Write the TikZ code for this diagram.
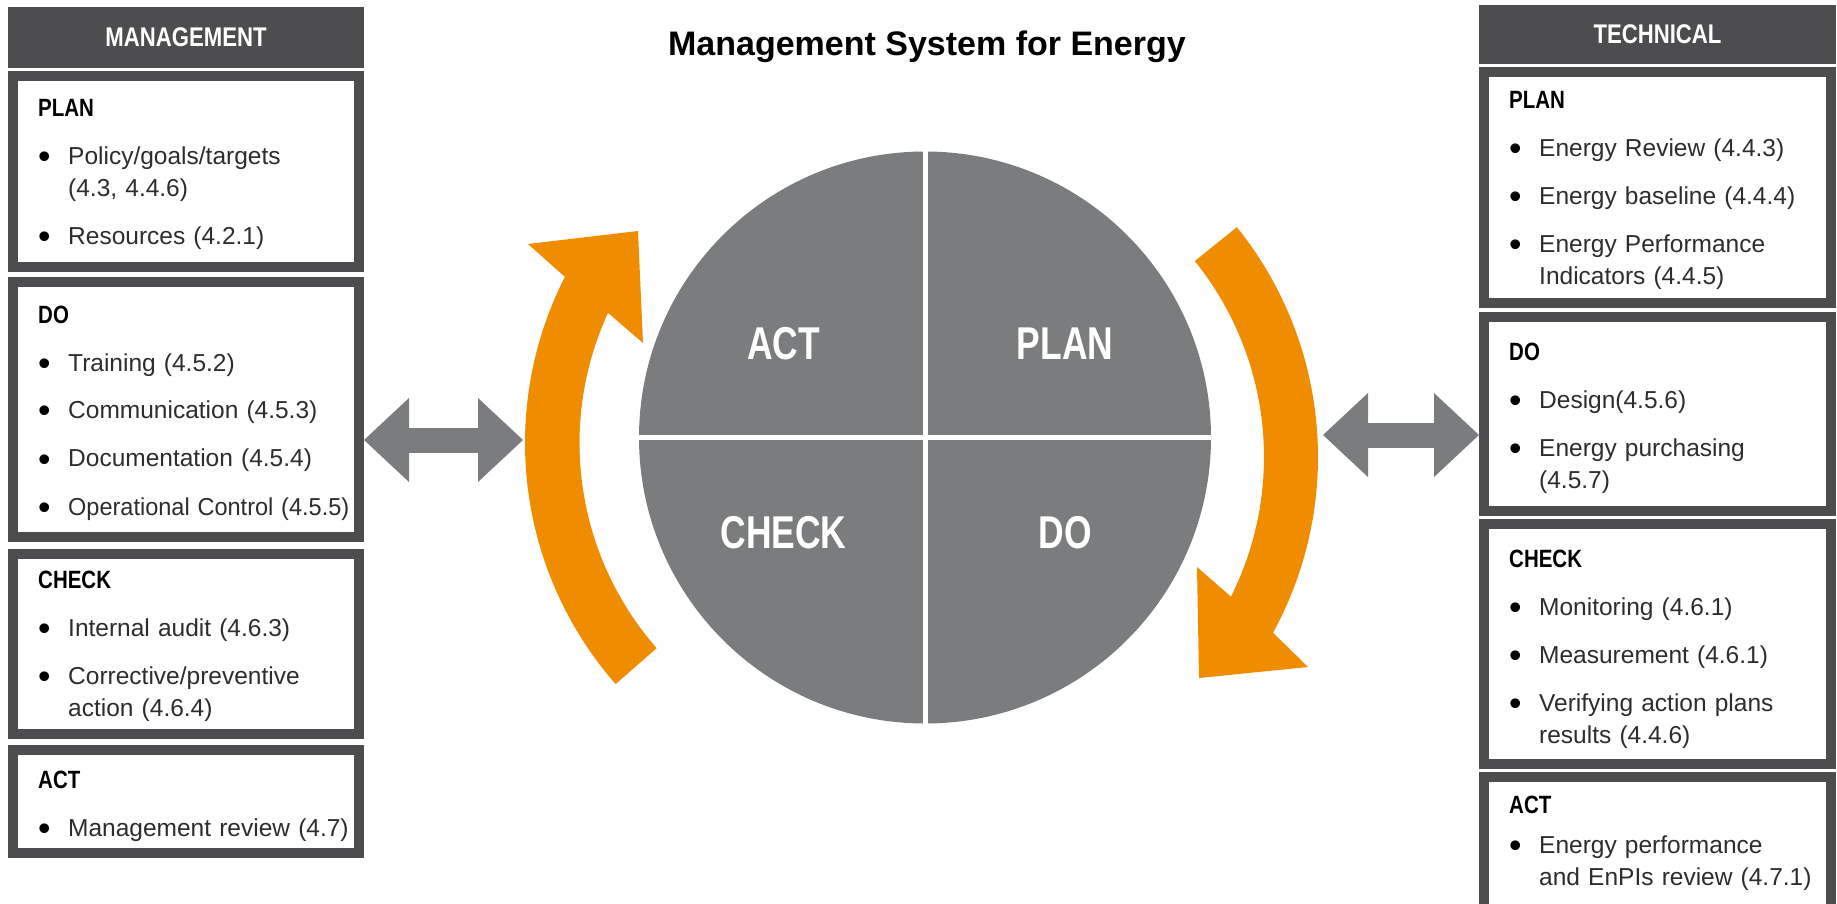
\documentclass[tikz,border=0pt]{standalone}
\usepackage{fontspec}
\setmainfont{Liberation Sans}
\newfontfamily\headfont[FakeStretch=0.82]{Liberation Sans}
\newfontfamily\cyclefont[FakeStretch=0.77]{Liberation Sans}
\usetikzlibrary{arrows.meta}

\definecolor{boxgray}{RGB}{77,77,79}
\definecolor{cyclegray}{RGB}{123,124,126}
\definecolor{loopcolor}{RGB}{240,140,0}
\definecolor{bodytext}{RGB}{45,45,45}

\newcommand\stagehead[1]{{\headfont\bfseries\fontsize{25}{32}\selectfont\color{black}#1}\par}
\newcommand\stageitem[2][16pt]{\par\vspace{#1}\noindent\makebox[30pt][l]{\color{black}\raisebox{-4pt}{\scalebox{1.45}{\textbullet}}}#2}
\newcommand\nextline{\newline\hspace*{30pt}}

\tikzset{
  stage/.style={draw=boxgray, line width=10pt, fill=white, inner sep=0pt},
  colhead/.style={fill=boxgray, text=white, inner sep=0pt, font=\headfont\bfseries\fontsize{27}{30}\selectfont},
  stagetext/.style={anchor=base west, inner sep=0pt, text width=330pt, text=bodytext, font=\fontsize{24.5}{32}\selectfont},
  quarter/.style={text=white, font=\cyclefont\bfseries\fontsize{46}{50}\selectfont},
  link/.style={draw=cyclegray, line width=25pt,
    {Triangle[length=45pt,width=84pt,line width=0pt]}-{Triangle[length=45pt,width=84pt,line width=0pt]}},
}

\begin{document}
\begin{tikzpicture}[x=1pt,y=1pt]
    \useasboundingbox (0,0) rectangle (1837,-904);

    % title
    \node[anchor=base, font=\bfseries\fontsize{34}{40}\selectfont] (title) at (927,-56) {Management System for Energy};

    % management column
    \node[colhead, minimum width=356, minimum height=61] (mhead) at (186,-37.5) {MANAGEMENT};
    \node[stage, minimum width=346, minimum height=191] (mplan) at (186,-171.5) {};
    \node[stage, minimum width=346, minimum height=255] (mdo) at (186,-409.5) {};
    \node[stage, minimum width=346, minimum height=180] (mcheck) at (186,-644) {};
    \node[stage, minimum width=346, minimum height=103] (mact) at (186,-801.5) {};
    \node[stagetext] (mplantxt) at (38,-117) {\stagehead{PLAN}%
        \stageitem{Policy/goals/targets\nextline(4.3, 4.4.6)}%
        \stageitem{Resources (4.2.1)}};
    \node[stagetext] (mdotxt) at (38,-323) {\stagehead{DO}%
        \stageitem{Training (4.5.2)}%
        \stageitem{Communication (4.5.3)}%
        \stageitem{Documentation (4.5.4)}%
        \stageitem{\scalebox{0.96}[1]{Operational Control (4.5.5)}}};
    \node[stagetext] (mchecktxt) at (38,-588) {\stagehead{CHECK}%
        \stageitem{Internal audit (4.6.3)}%
        \stageitem{Corrective/preventive\nextline action (4.6.4)}};
    \node[stagetext] (macttxt) at (38,-788) {\stagehead{ACT}%
        \stageitem{Management review (4.7)}};

    % technical column
    \node[colhead, minimum width=357, minimum height=59] (thead) at (1657.5,-34.5) {TECHNICAL};
    \node[stage, minimum width=347, minimum height=231] (tplan) at (1657.5,-187.5) {};
    \node[stage, minimum width=347, minimum height=194] (tdo) at (1657.5,-414) {};
    \node[stage, minimum width=347, minimum height=240] (tcheck) at (1657.5,-644) {};
    \node[stage, minimum width=347, minimum height=138] (tact) at (1657.5,-846) {};
    \node[stagetext] (tplantxt) at (1509,-109) {\stagehead{PLAN}%
        \stageitem{Energy Review (4.4.3)}%
        \stageitem{Energy baseline (4.4.4)}%
        \stageitem{Energy Performance\nextline Indicators (4.4.5)}};
    \node[stagetext] (tdotxt) at (1509,-360) {\stagehead{DO}%
        \stageitem{Design(4.5.6)}%
        \stageitem{Energy purchasing\nextline(4.5.7)}};
    \node[stagetext] (tchecktxt) at (1509,-567) {\stagehead{CHECK}%
        \stageitem{Monitoring (4.6.1)}%
        \stageitem{Measurement (4.6.1)}%
        \stageitem{Verifying action plans\nextline results (4.4.6)}};
    \node[stagetext] (tacttxt) at (1509,-813) {\stagehead{ACT}%
        \stageitem[8pt]{Energy performance\nextline and EnPIs review (4.7.1)}};

    % PDCA circle
    \node[circle, fill=cyclegray, minimum size=572, inner sep=0pt] (cycle) at (925,-437.5) {};
    \draw[white, line width=5pt] (cycle.north) -- (cycle.south);
    \draw[white, line width=5pt] (cycle.west) -- (cycle.east);
    \node[quarter] (actq) at (783.5,-343.5) {ACT};
    \node[quarter] (planq) at (1065,-343.5) {PLAN};
    \node[quarter] (checkq) at (783.5,-532.5) {CHECK};
    \node[quarter] (doq) at (1065,-532.5) {DO};

    % orange loop arrows
    \fill[loopcolor] ([shift={(221.2:366)}]891,-443) arc[start angle=221.2, end angle=153, radius=366]
        -- (528,-244) -- (638,-231) -- (643,-343)
        -- ([shift={(155.3:311.5)}]891,-443) arc[start angle=155.3, end angle=221.2, radius=311.5] -- cycle;
    \fill[loopcolor] ([shift={(38.9:366)}]952,-457) arc[start angle=38.9, end angle=-28.7, radius=366]
        -- (1308,-667) -- (1199,-678) -- (1197,-567)
        -- ([shift={(-26.6:312)}]952,-457) arc[start angle=-26.6, end angle=38.9, radius=312] -- cycle;

    % links to the columns
    \coordinate (lgap) at (523,-440);
    \coordinate (rgap) at (1323,-435);
    \draw[link] (mdo.east |- lgap) -- (lgap);
    \draw[link] (rgap) -- (tdo.west |- rgap);
\end{tikzpicture}
\end{document}
